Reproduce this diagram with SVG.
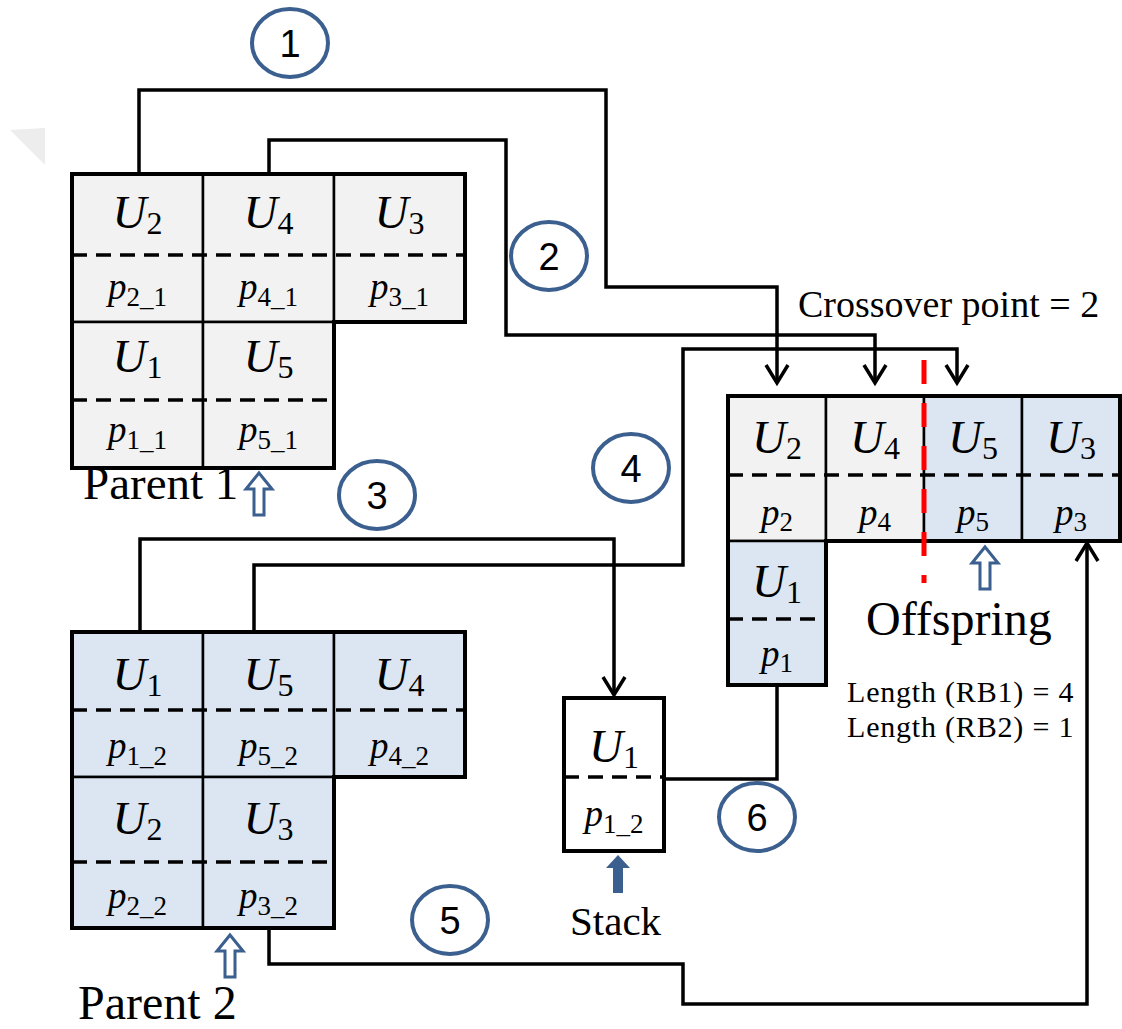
<svg xmlns="http://www.w3.org/2000/svg" width="1122" height="1029" viewBox="0 0 1122 1029">
<style>
.grey{fill:#f2f2f2;stroke:#000;stroke-width:2.5}
.blue{fill:#dce6f2;stroke:#000;stroke-width:2.5}
.outline{fill:none;stroke:#000;stroke-width:4;stroke-linejoin:miter}
.dash{stroke:#000;stroke-width:3.5;stroke-dasharray:15 9;fill:none}
.U{font-family:"Liberation Serif",serif;font-style:italic;font-size:47px;text-anchor:middle;fill:#000}
.P{font-family:"Liberation Serif",serif;font-style:italic;font-size:37px;text-anchor:middle;fill:#000}
.s1{font-style:normal;font-size:32px}
.s2{font-style:normal;font-size:27px}
.lbl{font-family:"Liberation Serif",serif;fill:#000}
.conn{fill:none;stroke:#000;stroke-width:3.5;stroke-linejoin:miter}
.step ellipse{fill:#fff;stroke:#3b5f8e;stroke-width:4}
.step text{font-family:"Liberation Sans",sans-serif;font-size:38px;text-anchor:middle;fill:#000}
.hollow{fill:#fff;stroke:#3b5f8e;stroke-width:3}
</style>
<defs>
<marker id="arr" markerUnits="userSpaceOnUse" markerWidth="40" markerHeight="40" viewBox="-20 -20 40 40" refX="0" refY="0" orient="auto" overflow="visible">
<path d="M-18,-11 L0,0 L-18,11" fill="none" stroke="#000" stroke-width="3.5"/>
</marker>
<path id="hArrow" d="M0,0 L13,16 L5,16 L5,42 L-5,42 L-5,16 L-13,16 Z"/>
</defs>

<polygon points="10,130 45,128 45,165" fill="#ededed"/>

<g id="parent1">
<rect class="grey" x="72" y="174" width="131" height="148"/>
<rect class="grey" x="203" y="174" width="131" height="148"/>
<rect class="grey" x="334" y="174" width="131" height="148"/>
<rect class="grey" x="72" y="322" width="131" height="146"/>
<rect class="grey" x="203" y="322" width="131" height="146"/>
<line class="dash" x1="72" y1="255" x2="465" y2="255"/>
<line class="dash" x1="72" y1="400" x2="334" y2="400"/>
<path class="outline" d="M72,174 H465 V322 H334 V468 H72 Z"/>
<text class="U" x="137.5" y="228">U<tspan class="s1" dy="6">2</tspan></text>
<text class="U" x="268.5" y="228">U<tspan class="s1" dy="6">4</tspan></text>
<text class="U" x="399.5" y="228">U<tspan class="s1" dy="6">3</tspan></text>
<text class="P" x="137.5" y="299">p<tspan class="s2" dy="7">2_1</tspan></text>
<text class="P" x="268.5" y="299">p<tspan class="s2" dy="7">4_1</tspan></text>
<text class="P" x="399.5" y="299">p<tspan class="s2" dy="7">3_1</tspan></text>
<text class="U" x="137.5" y="372">U<tspan class="s1" dy="6">1</tspan></text>
<text class="U" x="268.5" y="372">U<tspan class="s1" dy="6">5</tspan></text>
<text class="P" x="137.5" y="442">p<tspan class="s2" dy="7">1_1</tspan></text>
<text class="P" x="268.5" y="442">p<tspan class="s2" dy="7">5_1</tspan></text>
<text class="lbl" x="83" y="499" font-size="47">Parent 1</text>
<use href="#hArrow" class="hollow" x="259" y="473"/>
</g>

<g id="parent2">
<rect class="blue" x="72" y="632" width="131" height="145"/>
<rect class="blue" x="203" y="632" width="131" height="145"/>
<rect class="blue" x="334" y="632" width="131" height="145"/>
<rect class="blue" x="72" y="777" width="131" height="151"/>
<rect class="blue" x="203" y="777" width="131" height="151"/>
<line class="dash" x1="72" y1="710" x2="465" y2="710"/>
<line class="dash" x1="72" y1="862" x2="334" y2="862"/>
<path class="outline" d="M72,632 H465 V777 H334 V928 H72 Z"/>
<text class="U" x="137.5" y="690">U<tspan class="s1" dy="6">1</tspan></text>
<text class="U" x="268.5" y="690">U<tspan class="s1" dy="6">5</tspan></text>
<text class="U" x="399.5" y="690">U<tspan class="s1" dy="6">4</tspan></text>
<text class="P" x="137.5" y="758">p<tspan class="s2" dy="7">1_2</tspan></text>
<text class="P" x="268.5" y="758">p<tspan class="s2" dy="7">5_2</tspan></text>
<text class="P" x="399.5" y="758">p<tspan class="s2" dy="7">4_2</tspan></text>
<text class="U" x="137.5" y="834">U<tspan class="s1" dy="6">2</tspan></text>
<text class="U" x="268.5" y="834">U<tspan class="s1" dy="6">3</tspan></text>
<text class="P" x="137.5" y="908">p<tspan class="s2" dy="7">2_2</tspan></text>
<text class="P" x="268.5" y="908">p<tspan class="s2" dy="7">3_2</tspan></text>
<text class="lbl" x="78" y="1019" font-size="48">Parent 2</text>
<use href="#hArrow" class="hollow" x="230" y="935"/>
</g>

<g id="offspring">
<rect class="grey" x="728" y="396" width="98" height="145"/>
<rect class="grey" x="826" y="396" width="98" height="145"/>
<rect class="blue" x="924" y="396" width="98" height="145"/>
<rect class="blue" x="1022" y="396" width="98" height="145"/>
<rect class="blue" x="728" y="541" width="98" height="144"/>
<line class="dash" x1="728" y1="475" x2="1120" y2="475"/>
<line class="dash" x1="728" y1="619" x2="826" y2="619"/>
<path class="outline" d="M728,396 H1120 V541 H826 V685 H728 Z"/>
<text class="U" x="777" y="453">U<tspan class="s1" dy="6">2</tspan></text>
<text class="U" x="875" y="453">U<tspan class="s1" dy="6">4</tspan></text>
<text class="U" x="973" y="453">U<tspan class="s1" dy="6">5</tspan></text>
<text class="U" x="1071" y="453">U<tspan class="s1" dy="6">3</tspan></text>
<text class="P" x="777" y="525">p<tspan class="s2" dy="6">2</tspan></text>
<text class="P" x="875" y="525">p<tspan class="s2" dy="6">4</tspan></text>
<text class="P" x="973" y="525">p<tspan class="s2" dy="6">5</tspan></text>
<text class="P" x="1071" y="525">p<tspan class="s2" dy="6">3</tspan></text>
<text class="U" x="777" y="597">U<tspan class="s1" dy="6">1</tspan></text>
<text class="P" x="777" y="666">p<tspan class="s2" dy="6">1</tspan></text>
<line x1="924" y1="360" x2="924" y2="583" stroke="#ff0000" stroke-width="5" stroke-dasharray="24 19"/>
<text class="lbl" x="798" y="317" font-size="38">Crossover point = 2</text>
<text class="lbl" x="866" y="635" font-size="48">Offspring</text>
<use href="#hArrow" class="hollow" x="985" y="547"/>
<text class="lbl" x="847" y="702" font-size="30" letter-spacing="0.8">Length (RB1) = 4</text>
<text class="lbl" x="847" y="737" font-size="30" letter-spacing="0.8">Length (RB2) = 1</text>
</g>

<g id="stack">
<rect x="564" y="698" width="100" height="153" fill="#fff" stroke="#000" stroke-width="4"/>
<line class="dash" x1="564" y1="777" x2="664" y2="777"/>
<text class="U" x="614" y="762">U<tspan class="s1" dy="6">1</tspan></text>
<text class="P" x="614" y="826">p<tspan class="s2" dy="7">1_2</tspan></text>
<path d="M618,855 L630,868 L623,868 L623,893 L613,893 L613,868 L606,868 Z" fill="#3b5f8e"/>
<text class="lbl" x="570" y="935" font-size="41">Stack</text>
</g>

<g id="connectors">
<path class="conn" d="M139,174 V90 H606 V287 H777 V383" marker-end="url(#arr)"/>
<path class="conn" d="M269,174 V140 H506 V335 H875 V383" marker-end="url(#arr)"/>
<path class="conn" d="M140,632 V539 H614 V695" marker-end="url(#arr)"/>
<path class="conn" d="M254,632 V565 H683 V349 H957 V383" marker-end="url(#arr)"/>
<path class="conn" d="M269,928 V964 H683 V1004 H1087 V543" marker-end="url(#arr)"/>
<path class="conn" d="M777,687 V779 H664"/>
</g>

<g id="step1" class="step"><ellipse cx="290" cy="43" rx="38" ry="34"/><text x="290" y="57">1</text></g>
<g id="step2" class="step"><ellipse cx="549" cy="256" rx="38" ry="34"/><text x="549" y="270">2</text></g>
<g id="step3" class="step"><ellipse cx="377" cy="495" rx="38" ry="34"/><text x="377" y="509">3</text></g>
<g id="step4" class="step"><ellipse cx="631" cy="468" rx="38" ry="34"/><text x="631" y="482">4</text></g>
<g id="step5" class="step"><ellipse cx="450" cy="920" rx="38" ry="34"/><text x="450" y="934">5</text></g>
<g id="step6" class="step"><ellipse cx="757" cy="817" rx="38" ry="34"/><text x="757" y="831">6</text></g>
</svg>
